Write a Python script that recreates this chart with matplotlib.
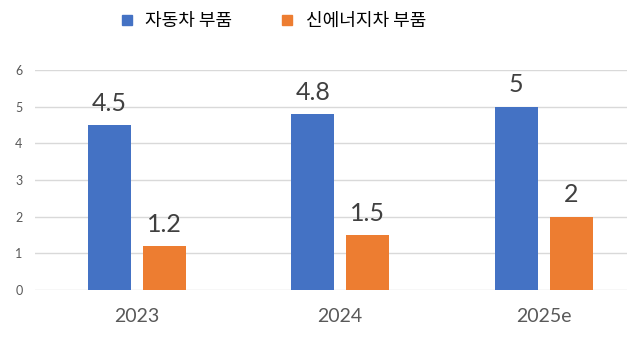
import matplotlib
matplotlib.use("Agg")
import matplotlib.pyplot as plt
from matplotlib.lines import Line2D
import numpy as np

plt.rcParams['font.family'] = ['Noto Sans CJK KR', 'DejaVu Sans']

years = ["2023", "2024", "2025e"]
series_names = ["자동차 부품", "신에너지차 부품"]
auto_parts = [4.5, 4.8, 5]
nev_parts = [1.2, 1.5, 2]
colors = ["#4472C4", "#ED7D31"]

num_font = dict(family="Lato", weight="normal")

fig = plt.figure(figsize=(6.44, 3.38), dpi=100)
ax = fig.add_axes([35 / 644, 48 / 338, 592 / 644, 220 / 338])

x = np.arange(len(years))
w = 0.211
off = 0.135
b1 = ax.bar(x - off, auto_parts, w, color=colors[0], zorder=3)
b2 = ax.bar(x + off, nev_parts, w, color=colors[1], zorder=3)

for bars, vals in ((b1, auto_parts), (b2, nev_parts)):
    for rect, v in zip(bars, vals):
        ax.annotate(f"{v:g}", (rect.get_x() + rect.get_width() / 2, v),
                    xytext=(0, 7.5), textcoords="offset points",
                    ha="center", va="bottom", fontsize=18,
                    color="#404040", **num_font)

ax.set_xlim(-0.5, 2.41)
ax.set_ylim(0, 6)
ax.set_yticks(range(0, 7))
ax.set_xticks(x)
ax.set_xticklabels(years, fontsize=14, color="#595959", **num_font)
ax.set_yticklabels([str(t) for t in range(0, 7)], fontsize=9, color="#595959", **num_font)
ax.tick_params(axis="y", length=0, pad=9)
ax.tick_params(axis="x", length=0, pad=13)
ax.grid(axis="y", color="#D9D9D9", linewidth=1, zorder=0)
for s in ax.spines.values():
    s.set_visible(False)

handles = [Line2D([], [], linestyle="none", marker="s", markersize=6.5,
                  markerfacecolor=c, markeredgecolor=c) for c in colors]
fig.legend(handles, series_names, loc="upper left", bbox_to_anchor=(117.5 / 644, 1 - 12 / 338),
           ncol=2, frameon=False, fontsize=13, handletextpad=0.55,
           columnspacing=2.5, handlelength=1.0, borderpad=0, borderaxespad=0)

fig.savefig("out.png", dpi=100)
